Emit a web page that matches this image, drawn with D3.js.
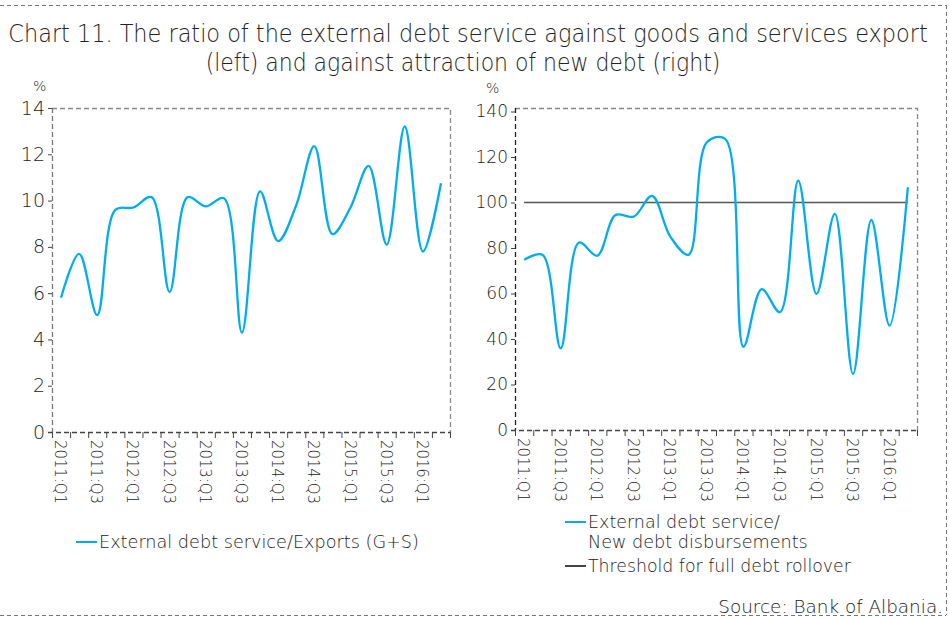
<!DOCTYPE html>
<html>
<head>
<meta charset="utf-8">
<script src="https://cdn.jsdelivr.net/npm/d3@7"></script>
<style>
  body { margin: 0; background: #fff; }
  svg text { font-family: "DejaVu Sans", sans-serif; font-weight: 200; fill: #222; }
</style>
</head>
<body>
<svg id="chart" width="949" height="619"></svg>
<script>
// quarters shown on both charts
const quarters = ["2011:Q1","2011:Q2","2011:Q3","2011:Q4","2012:Q1","2012:Q2","2012:Q3","2012:Q4",
  "2013:Q1","2013:Q2","2013:Q3","2013:Q4","2014:Q1","2014:Q2","2014:Q3","2014:Q4",
  "2015:Q1","2015:Q2","2015:Q3","2015:Q4","2016:Q1","2016:Q2"];
// left: external debt service / exports (G+S), %
const exportRatio = [5.8, 7.7, 5.05, 9.6, 9.7, 10.15, 6.05, 10.15, 9.75, 10.1, 4.3, 10.4,
  8.25, 9.8, 12.35, 8.55, 9.7, 11.5, 8.1, 13.2, 7.8, 10.75];
// right: external debt service / new debt disbursements, %
const disbRatio = [74.8, 77, 35.9, 82.4, 76.6, 94.5, 93.8, 102.9, 85, 77, 126.5, 128,
  36.6, 61.9, 51.8, 109.6, 59.8, 95, 24.6, 92.3, 45.9, 106.7];
const threshold = quarters.map(() => 100);
const leftTicks = [0, 2, 4, 6, 8, 10, 12, 14];
const rightTicks = [0, 20, 40, 60, 80, 100, 120, 140];

const blue = "#00aeef";
const svg = d3.select("#chart");

// squeeze a text horizontally to a given width (anchor kept)
function fit(sel, x, y, w, anchor) {
  const n = sel.node();
  const k = w / n.getComputedTextLength();
  sel.attr("text-anchor", anchor || "start")
    .attr("transform", `translate(${x},${y}) scale(${k},1)`);
}

// outer dashed border
const border = svg.append("g").attr("stroke", "#777").attr("stroke-dasharray", "4,3").attr("fill", "none");
border.append("line").attr("x1", 0).attr("x2", 946).attr("y1", 5.5).attr("y2", 5.5);
border.append("line").attr("x1", 946.5).attr("x2", 946.5).attr("y1", 5).attr("y2", 615);
border.append("line").attr("x1", 0).attr("x2", 946).attr("y1", 615.5).attr("y2", 615.5);

// title
fit(svg.append("text").style("font-size", "25px")
  .text("Chart 11. The ratio of the external debt service against goods and services export"),
  468, 42, 920, "middle");
fit(svg.append("text").style("font-size", "25px")
  .text("(left) and against attraction of new debt (right)"),
  463, 71, 515, "middle");

function drawPanel(opt) {
  const g = svg.append("g");
  const x = d3.scaleBand().domain(quarters).range([opt.left, opt.right]);
  const y = d3.scaleLinear().domain([0, opt.max]).range([opt.bottom, opt.yTop]);

  // frame top + right
  g.append("path")
    .attr("d", `M${opt.left},${opt.frameTop + 0.5}H${opt.right + 0.5}V${opt.bottom}`)
    .attr("fill", "none").attr("stroke", "#888").attr("stroke-width", 1.3)
    .attr("stroke-dasharray", "5,3");

  // y axis
  const ya = g.append("g").attr("transform", `translate(${opt.left},0)`)
    .call(d3.axisLeft(y).tickValues(opt.ticks).tickSize(4).tickPadding(3));
  ya.select(".domain").attr("d", `M0.5,${opt.frameTop}V${opt.bottom}`)
    .attr("stroke", opt.axisColor).attr("stroke-width", 1.3).attr("stroke-dasharray", "5,3");
  ya.selectAll(".tick line").attr("stroke", "#444");
  ya.selectAll(".tick text").style("font-size", opt.yFont).attr("fill", "#222")
    .attr("font-family", null).attr("font-size", null);
  ya.attr("font-family", null).attr("font-size", null);

  // x axis: ticks at category boundaries
  const xa = g.append("g").attr("transform", `translate(0,${opt.bottom})`);
  xa.append("line").attr("x1", opt.left - 4).attr("x2", opt.right)
    .attr("y1", 0.5).attr("y2", 0.5)
    .attr("stroke", "#444").attr("stroke-width", 1.3).attr("stroke-dasharray", "5,3");
  xa.selectAll(".bt").data(d3.range(quarters.length + 1)).join("line")
    .attr("x1", i => opt.left + i * x.step() + 0.5).attr("x2", i => opt.left + i * x.step() + 0.5)
    .attr("y1", 0).attr("y2", 6).attr("stroke", "#444");
  xa.selectAll(".xl").data(quarters.filter((q, i) => i % 2 === 0)).join("text")
    .attr("transform", d => `translate(${x(d) + x.bandwidth() / 2 - 6},8) rotate(90)`)
    .style("font-size", "15px")
    .attr("textLength", 64).attr("lengthAdjust", "spacingAndGlyphs")
    .text(d => d);

  // unit label
  g.append("text").attr("x", opt.pctX).attr("y", opt.pctY).style("font-size", "14px").text("%");

  const smooth = d3.line()
    .x((d, i) => x(quarters[i]) + x.bandwidth() / 2)
    .y(d => y(d))
    .curve(d3.curveCatmullRom.alpha(0.5));
  const straight = d3.line()
    .x((d, i) => x(quarters[i]) + x.bandwidth() / 2)
    .y(d => y(d));

  opt.series.forEach(s => {
    g.append("path").datum(s.values)
      .attr("fill", "none").attr("stroke", s.color).attr("stroke-width", s.width)
      .attr("d", s.smooth ? smooth : straight);
  });
}

drawPanel({
  left: 52, right: 450, bottom: 432, yTop: 108, frameTop: 108, max: 14,
  ticks: leftTicks, yFont: "19px", axisColor: "#777", pctX: 33, pctY: 91,
  series: [{ values: exportRatio, color: blue, width: 2.3, smooth: true }]
});
drawPanel({
  left: 515, right: 917, bottom: 430, yTop: 111.5, frameTop: 108, max: 140,
  ticks: rightTicks, yFont: "17px", axisColor: "#222", pctX: 486, pctY: 93,
  series: [
    { values: threshold, color: "#555", width: 1.6, smooth: false },
    { values: disbRatio, color: blue, width: 2.3, smooth: true }
  ]
});

// legends
function legendItem(x0, yy, color, lines, len) {
  svg.append("line").attr("x1", x0).attr("x2", x0 + 21).attr("y1", yy).attr("y2", yy)
    .attr("stroke", color).attr("stroke-width", 2);
  lines.forEach((t, i) => {
    fit(svg.append("text").style("font-size", "18px").text(t), x0 + 23, yy + 6 + i * 20, len[i]);
  });
}
legendItem(76, 542, blue, ["External debt service/Exports (G+S)"], [320]);
legendItem(565, 522, blue, ["External debt service/", "New debt disbursements"], [192, 220]);
legendItem(565, 566, "#444", ["Threshold for full debt rollover"], [263]);

fit(svg.append("text").style("font-size", "18px").text("Source: Bank of Albania."), 943, 613, 225, "end");
</script>
</body>
</html>
